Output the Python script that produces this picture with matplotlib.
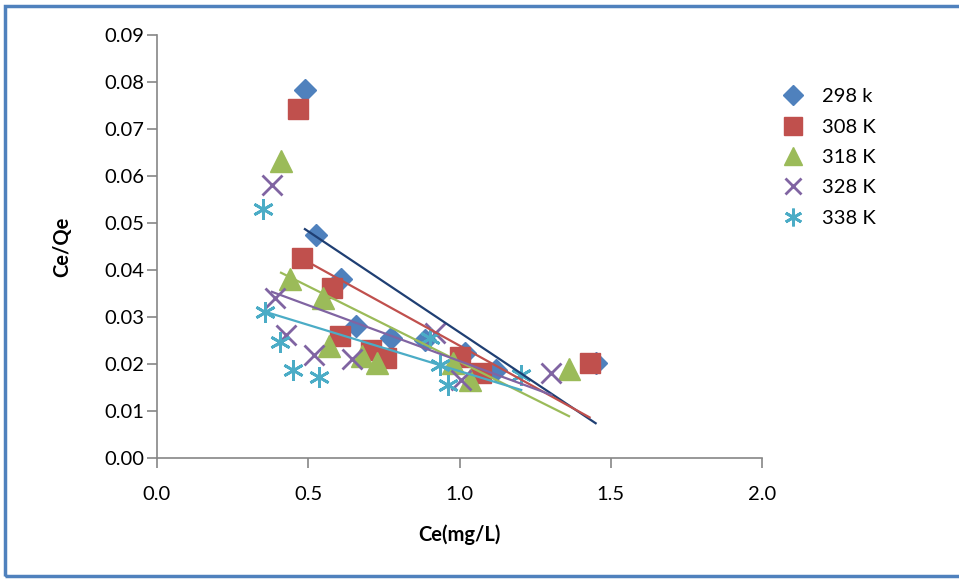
import numpy as np
import matplotlib
matplotlib.use("Agg")
import matplotlib.pyplot as plt
from matplotlib.lines import Line2D
from matplotlib.patches import Rectangle

plt.rcParams['font.family'] = ['Lato', 'DejaVu Sans']

# data (Ce in mg/L, Ce/Qe)
labels = ['298 k', '308 K', '318 K', '328 K', '338 K']

ce_298 = [0.489, 0.527, 0.607, 0.657, 0.775, 0.885, 1.017, 1.122, 1.450]
cq_298 = [0.0782, 0.0474, 0.0382, 0.0282, 0.0255, 0.0252, 0.0223, 0.0188, 0.0202]

ce_308 = [0.466, 0.478, 0.577, 0.606, 0.706, 0.756, 1.001, 1.072, 1.430]
cq_308 = [0.0742, 0.0425, 0.0361, 0.0260, 0.0230, 0.0214, 0.0216, 0.0181, 0.0203]

ce_318 = [0.410, 0.439, 0.549, 0.569, 0.679, 0.728, 0.979, 1.034, 1.362]
cq_318 = [0.0632, 0.0382, 0.0340, 0.0239, 0.0217, 0.0202, 0.0202, 0.0166, 0.0189]

ce_328 = [0.380, 0.390, 0.428, 0.518, 0.646, 0.918, 1.006, 1.303]
cq_328 = [0.0581, 0.0340, 0.0262, 0.0219, 0.0210, 0.0266, 0.0166, 0.0181]

ce_338 = [0.350, 0.357, 0.408, 0.448, 0.536, 0.902, 0.935, 0.962, 1.204]
cq_338 = [0.0530, 0.0311, 0.0248, 0.0188, 0.0173, 0.0255, 0.0198, 0.0156, 0.0177]

series = [(ce_298, cq_298), (ce_308, cq_308), (ce_318, cq_318),
          (ce_328, cq_328), (ce_338, cq_338)]

colors = ['#4F81BD', '#C0504D', '#9BBB59', '#8064A2', '#4BACC6']
trend_colors = ['#1F3F73', '#C0504D', '#9BBB59', '#8064A2', '#4BACC6']
markers = ['D', 's', '^', 'x', (6, 2, 0)]
msizes = [11.5, 15, 15.5, 14, 15]

fig = plt.figure(figsize=(9.59, 5.79), dpi=100)
ax = fig.add_axes([0.1637, 0.2085, 0.6309, 0.7315])

for (x, y), c, tc, m, ms in zip(series, colors, trend_colors, markers, msizes):
    x = np.array(x)
    y = np.array(y)
    if m in ('x', (6, 2, 0)):
        ax.plot(x, y, ls='none', marker=m, ms=ms, color=c, mew=2, zorder=3)
    else:
        ax.plot(x, y, ls='none', marker=m, ms=ms, color=c, mec=c, zorder=3)
    # linear trendline over the data range
    k, b = np.polyfit(x, y, 1)
    xs = np.array([x.min(), x.max()])
    ax.plot(xs, k * xs + b, color=tc, lw=1.6, zorder=4)

ax.set_xlim(0, 2.0)
ax.set_ylim(0, 0.09)
ax.set_xticks(np.arange(0, 2.01, 0.5))
ax.set_yticks(np.arange(0, 0.0901, 0.01))
ax.xaxis.set_major_formatter(matplotlib.ticker.FormatStrFormatter('%.1f'))
ax.yaxis.set_major_formatter(matplotlib.ticker.FormatStrFormatter('%.2f'))

for s in ['top', 'right']:
    ax.spines[s].set_visible(False)
for s in ['left', 'bottom']:
    ax.spines[s].set_color('#868686')
    ax.spines[s].set_linewidth(1.2)
ax.tick_params(axis='both', direction='out', length=7, width=1.2,
               color='#868686', labelsize=14.5, labelcolor='black')
ax.tick_params(axis='x', pad=13)
ax.tick_params(axis='y', pad=2)

ax.set_xlabel('Ce(mg/L)', fontsize=14.5, fontweight='bold')
ax.set_ylabel('Ce/Qe', fontsize=14.5, fontweight='bold')
ax.xaxis.set_label_coords(0.5, -0.155)
ax.yaxis.set_label_coords(-0.14, 0.5)

handles = [Line2D([], [], ls='none', marker=m, ms=ms * 0.85, color=c,
                  mew=2 if m in ('x', (6, 2, 0)) else 1)
           for m, ms, c in zip(markers, msizes, colors)]
fig.legend(handles, labels, loc='upper left', bbox_to_anchor=(0.798, 0.879),
           frameon=False, fontsize=14.5, handlelength=1.0, handletextpad=0.9,
           labelspacing=0.66)

# blue frame around the chart area
fig.add_artist(Rectangle((5 / 959, 3 / 579), 1.2, 1 - 8.5 / 579,
                         transform=fig.transFigure, fill=False,
                         edgecolor='#4F81BD', lw=2.5))

fig.savefig('out.png', dpi=100)
